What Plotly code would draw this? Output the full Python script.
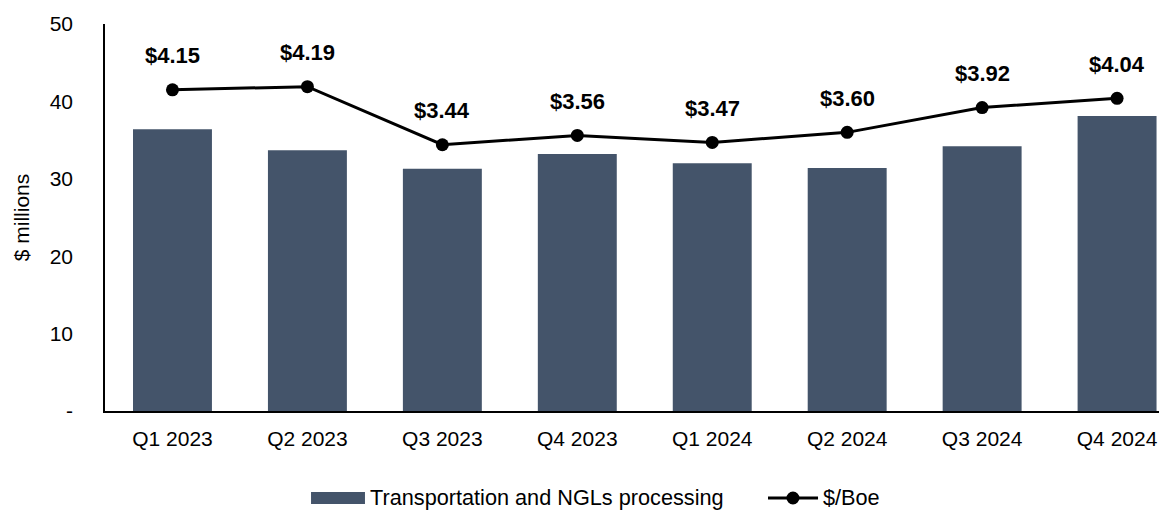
import plotly.graph_objects as go

categories = ["Q1 2023", "Q2 2023", "Q3 2023", "Q4 2023", "Q1 2024", "Q2 2024", "Q3 2024", "Q4 2024"]
transport = [36.4, 33.7, 31.3, 33.2, 32.0, 31.4, 34.2, 38.1]
boe = [4.15, 4.19, 3.44, 3.56, 3.47, 3.60, 3.92, 4.04]
boe_labels = ["$4.15", "$4.19", "$3.44", "$3.56", "$3.47", "$3.60", "$3.92", "$4.04"]
y_ticks = [0, 10, 20, 30, 40, 50]
y_ticktext = ["-", "10", "20", "30", "40", "50"]
series_names = ["Transportation and NGLs processing", "$/Boe"]

FONT = "Liberation Sans Narrow, Arial Narrow, Liberation Sans, Arial, sans-serif"
BAR_COLOR = "#44546A"

fig = go.Figure()
fig.add_trace(go.Bar(
    x=categories, y=transport, name=series_names[0],
    marker=dict(color=BAR_COLOR, line=dict(width=0)), width=0.585, showlegend=False,
))
fig.add_trace(go.Scatter(
    x=categories, y=boe, name=series_names[1], yaxis="y2", mode="lines+markers",
    line=dict(color="#000000", width=3), marker=dict(size=13, color="#000000"),
    showlegend=False,
))
for c, v, t in zip(categories, boe, boe_labels):
    fig.add_annotation(x=c, y=v, yref="y2", text="<b>" + t + "</b>", showarrow=False,
                       yshift=34, font=dict(family=FONT, size=22, color="#000000"))

# custom legend (paper coordinates relative to the plot area)
LY = -0.2248
fig.add_shape(type="rect", xref="paper", yref="paper", x0=0.1940, x1=0.2448,
              y0=-0.2403, y1=-0.2093, fillcolor=BAR_COLOR, line=dict(width=0))
fig.add_annotation(xref="paper", yref="paper", x=0.2477, y=LY, xanchor="left",
                   yanchor="middle", text=series_names[0], showarrow=False,
                   font=dict(family=FONT, size=21.7, color="#000000"))
fig.add_shape(type="line", xref="paper", yref="paper", x0=0.6243, x1=0.6714,
              y0=LY, y1=LY, line=dict(color="#000000", width=3))
fig.add_shape(type="circle", xref="paper", yref="paper", xsizemode="pixel",
              ysizemode="pixel", xanchor=0.6478, yanchor=LY, x0=-6.5, x1=6.5,
              y0=-6.5, y1=6.5, fillcolor="#000000", line=dict(width=0))
fig.add_annotation(xref="paper", yref="paper", x=0.6742, y=LY, xanchor="left",
                   yanchor="middle", text=series_names[1], showarrow=False,
                   font=dict(family=FONT, size=21.7, color="#000000"))

fig.update_layout(
    width=1159, height=502,
    margin=dict(l=97, r=0, t=16, b=99, autoexpand=False),
    paper_bgcolor="white", plot_bgcolor="white",
    font=dict(family=FONT, size=21, color="#000000"),
    showlegend=False,
    xaxis=dict(range=[-0.5, 7.37], showline=True, linecolor="#000000", linewidth=1.5,
               ticks="", showgrid=False, tickfont=dict(size=21), automargin=False,
               ticklabelstandoff=8, ticklabeloverflow="allow"),
    yaxis=dict(range=[0, 50], tickvals=y_ticks, ticktext=y_ticktext, showline=True,
               linecolor="#000000", linewidth=1.5, showgrid=False, ticks="",
               ticklabelstandoff=26, zeroline=False, automargin=False,
               tickfont=dict(size=21),
               title=dict(text="$ millions", font=dict(size=21), standoff=14)),
    yaxis2=dict(range=[0, 5], overlaying="y", side="right", visible=False),
)
fig.write_html("out.html")
